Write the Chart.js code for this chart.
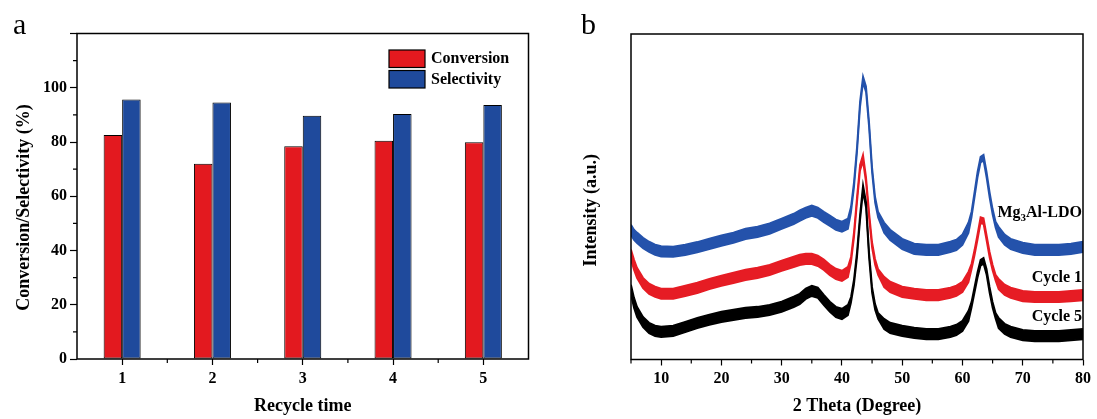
<!DOCTYPE html>
<html>
<head>
<meta charset="utf-8">
<script src="https://cdn.jsdelivr.net/npm/chart.js@4.4.1/dist/chart.umd.min.js"></script>
<style>
  html, body { margin: 0; padding: 0; background: #fff; }
  #wrap { position: relative; width: 1097px; height: 419px; overflow: hidden; font-family: "Liberation Serif", serif; }
  .panel { position: absolute; top: 0; height: 419px; }
  #boxA { left: 0; width: 548px; }
  #boxB { left: 548px; width: 549px; }
  .tag { position: absolute; top: 9px; font-size: 30px; line-height: 30px; color: #000; }
</style>
</head>
<body>
<div id="wrap">
  <div class="panel" id="boxA"><canvas id="chartA" width="548" height="419"></canvas></div>
  <div class="panel" id="boxB"><canvas id="chartB" width="549" height="419"></canvas></div>
  <div class="tag" style="left:13px;">a</div>
  <div class="tag" style="left:581px;">b</div>
</div>
<script>
// panel a: recycle test
const recycleTimes = ['1', '2', '3', '4', '5'];
const conversion = [82.6, 72.0, 78.4, 80.5, 79.9];
const selectivity = [95.7, 94.6, 89.7, 90.3, 93.6];
const yTicksA = [0, 20, 40, 60, 80, 100, 120];
const yMinorA = [10, 30, 50, 70, 90, 110];

// panel b: XRD patterns, top and bottom edge of each noisy trace
const xTicksB = [10, 20, 30, 40, 50, 60, 70, 80];
const xMinorB = [5, 15, 25, 35, 45, 55, 65, 75];
const theta = [5,5.5,6,7,8,9,10,12,14,16,18,20,22,24,26,28,30,32,33,34,35,36,37,38,39,40,41,41.5,42,42.5,43,43.5,44,44.5,45,45.5,46,47,48,50,52,54,56,58,59,60,61,61.5,62,62.5,63,63.5,64,64.5,65,65.5,66,67,68,70,72,74,76,78,80];
const ldoTop = [41.4,39.9,39.0,37.4,36.2,35.3,34.8,34.7,35.3,36.1,37.1,38.1,39.0,40.2,40.8,41.8,43.3,44.8,45.8,46.7,47.3,46.7,45.4,44.2,43.0,42.4,43.3,46.9,54.6,65.4,79.2,87.0,83.9,73.1,59.2,50.0,45.4,42.1,39.9,37.1,35.6,35.3,35.3,36.2,36.8,38.4,42.1,45.4,51.5,57.7,62.3,62.9,57.7,51.5,46.3,42.3,40.8,38.4,37.1,35.9,35.3,35.3,35.3,35.6,36.2];
const ldoBottom = [38.2,36.7,35.8,34.2,33.0,32.1,31.6,31.5,32.1,32.9,33.9,34.9,35.8,37.0,37.6,38.6,40.1,41.6,42.6,43.5,44.1,43.5,42.2,41.0,39.8,39.2,40.1,45.1,52.8,63.6,77.4,85.1,82.1,71.3,57.4,48.2,43.6,38.9,36.7,33.9,32.4,32.1,32.1,33.0,33.6,35.2,38.9,43.6,49.7,55.9,60.5,61.1,55.9,49.7,44.5,40.5,37.6,35.2,33.9,32.7,32.1,32.1,32.1,32.4,33.0];
const cycle1Top = [33.8,30.7,28.2,25.1,23.3,22.4,21.8,21.8,22.7,23.6,24.8,25.8,26.7,27.6,28.2,29.1,30.4,31.6,32.2,32.5,32.5,31.9,30.7,29.1,27.9,27.3,28.5,31.5,39.2,50.0,59.8,62.9,56.1,45.4,36.1,30.9,27.8,25.4,23.9,22.4,21.8,21.4,21.4,22.1,22.7,23.9,27.0,29.4,33.7,38.6,43.7,43.4,38.3,33.1,29.1,26.0,24.8,23.0,22.1,21.1,20.8,20.8,20.8,21.1,21.4];
const cycle1Bottom = [30.6,27.5,25.0,21.9,20.1,19.2,18.6,18.6,19.5,20.4,21.6,22.6,23.5,24.4,25.0,25.9,27.2,28.4,29.0,29.3,29.3,28.7,27.5,25.9,24.7,24.1,25.3,29.7,37.4,48.2,58.0,60.9,54.3,43.6,34.3,29.1,26.0,22.2,20.7,19.2,18.6,18.2,18.2,18.9,19.5,20.7,23.8,27.6,31.9,36.8,41.9,41.6,36.5,31.3,27.3,24.2,21.6,19.8,18.9,17.9,17.6,17.6,17.6,17.9,18.2];
const cycle5Top = [23.0,19.0,16.2,13.1,11.3,10.4,10.1,10.4,11.6,12.8,13.8,14.7,15.3,15.9,16.2,16.8,17.8,19.3,20.2,21.8,22.7,22.1,19.9,17.8,16.2,15.6,16.8,19.2,24.7,33.1,44.4,53.6,48.4,33.1,22.3,17.1,14.3,12.5,11.3,10.4,9.8,9.4,9.4,10.1,10.7,11.9,15.0,17.7,22.3,26.9,30.6,31.2,27.8,22.3,17.7,14.3,12.8,11.0,10.1,9.1,8.8,8.8,8.8,9.1,9.4];
const cycle5Bottom = [19.8,15.8,13.0,9.9,8.1,7.2,6.9,7.2,8.4,9.6,10.6,11.5,12.1,12.7,13.0,13.6,14.6,16.1,17.0,18.6,19.5,18.9,16.7,14.6,13.0,12.4,13.6,17.4,22.9,31.3,42.6,51.6,46.6,31.3,20.5,15.3,12.5,9.3,8.1,7.2,6.6,6.2,6.2,6.9,7.5,8.7,11.8,15.9,20.5,25.1,28.8,29.4,26.0,20.5,15.9,12.5,9.6,7.8,6.9,5.9,5.6,5.6,5.6,5.9,6.2];

const RED = '#e3191f';
const BLUE = '#1f4a9c';
const LINE_BLUE = '#2452ab';
const LINE_RED = '#e61c24';

Chart.defaults.font.family = '"Liberation Serif", "Times New Roman", serif';
Chart.defaults.color = '#000';

const bold16 = {size: 16, weight: 'bold'};
const bold18 = {size: 18, weight: 'bold'};

// box around the plot + short minor ticks
const frame = {
    id: 'frame',
    afterDraw(chart, args, opts) {
        const {ctx, chartArea: a} = chart;
        ctx.save();
        ctx.strokeStyle = '#000';
        ctx.lineWidth = 1.5;
        ctx.strokeRect(a.left, a.top, a.right - a.left, a.bottom - a.top);
        ctx.lineWidth = 1.2;
        ctx.beginPath();
        (opts.xMinor || []).forEach(v => {
            const x = chart.scales.x.getPixelForValue(v);
            ctx.moveTo(x, a.bottom);
            ctx.lineTo(x, a.bottom + 4);
        });
        (opts.yMinor || []).forEach(v => {
            const y = chart.scales.y.getPixelForValue(v);
            ctx.moveTo(a.left, y);
            ctx.lineTo(a.left - 4, y);
        });
        ctx.stroke();
        ctx.restore();
    }
};

// legend boxes in the upper right corner of panel a
const boxLegend = {
    id: 'boxLegend',
    afterDraw(chart) {
        const {ctx, chartArea: a} = chart;
        ctx.save();
        ctx.font = 'bold 16px "Liberation Serif"';
        ctx.textBaseline = 'middle';
        chart.data.datasets.forEach((ds, i) => {
            const x = a.right - 139.5;
            const y = a.top + 16.5 + i * 20.5;
            ctx.fillStyle = ds.backgroundColor;
            ctx.fillRect(x, y, 36, 17.5);
            ctx.strokeStyle = '#000';
            ctx.lineWidth = 1.2;
            ctx.strokeRect(x, y, 36, 17.5);
            ctx.fillStyle = '#000';
            ctx.fillText(ds.label, x + 42, y + 9);
        });
        ctx.restore();
    }
};

// curve names at the right end of panel b
const curveNames = {
    id: 'curveNames',
    afterDraw(chart) {
        const {ctx, chartArea: a} = chart;
        const yScale = chart.scales.y;
        const names = [
            {parts: [['Mg', 16, 0], ['3', 11, 5], ['Al-LDO', 16, 0]], at: 45.1},
            {parts: [['Cycle 1', 16, 0]], at: 25.1},
            {parts: [['Cycle 5', 16, 0]], at: 13.1},
        ];
        ctx.save();
        ctx.fillStyle = '#000';
        ctx.textBaseline = 'middle';
        names.forEach(n => {
            let w = 0;
            n.parts.forEach(p => {
                ctx.font = 'bold ' + p[1] + 'px "Liberation Serif"';
                w += ctx.measureText(p[0]).width;
            });
            let x = a.right - 1 - w;
            const y = yScale.getPixelForValue(n.at);
            n.parts.forEach(p => {
                ctx.font = 'bold ' + p[1] + 'px "Liberation Serif"';
                ctx.fillText(p[0], x, y + p[2]);
                x += ctx.measureText(p[0]).width;
            });
        });
        ctx.restore();
    }
};

// Bar chart
new Chart(document.getElementById('chartA'), {
    type: 'bar',
    data: {
        labels: recycleTimes,
        datasets: [
            {label: 'Conversion', data: conversion, backgroundColor: RED, borderColor: '#000', borderWidth: 1, borderSkipped: false},
            {label: 'Selectivity', data: selectivity, backgroundColor: BLUE, borderColor: '#000', borderWidth: 1, borderSkipped: false},
        ]
    },
    options: {
        responsive: false,
        animation: false,
        categoryPercentage: 0.41,
        barPercentage: 1.0,
        layout: {padding: {top: 33.5, right: 19.5, left: 0, bottom: 0}},
        plugins: {
            legend: {display: false},
            tooltip: {enabled: false},
            frame: {xMinor: [0.5, 1.5, 2.5, 3.5], yMinor: yMinorA},
        },
        scales: {
            x: {
                grid: {offset: false, drawOnChartArea: false, tickLength: 6, color: '#000', tickWidth: 1.2},
                border: {display: false},
                ticks: {font: bold16, padding: 4},
                title: {display: true, text: 'Recycle time', font: bold18, padding: {top: 0, bottom: 2}},
                afterFit: s => { s.height = 60; },
            },
            y: {
                min: 0,
                max: 120,
                afterBuildTicks: s => { s.ticks = yTicksA.map(v => ({value: v})); },
                grid: {drawOnChartArea: false, tickLength: 7, color: '#000', tickWidth: 1.2},
                border: {display: false},
                ticks: {font: bold16, padding: 3, callback: v => (v === 120 ? '' : v)},
                title: {display: true, text: 'Conversion/Selectivity (%)     ', font: bold18, padding: {top: 14, bottom: 0}},
                afterFit: s => { s.width = 77; },
            }
        }
    },
    plugins: [frame, boxLegend]
});

// XRD chart
function trace(values) {
    return theta.map((t, i) => ({x: t, y: values[i]}));
}

function band(top, bottom, color, order) {
    return [
        {data: trace(top), borderColor: color, backgroundColor: color, fill: '+1', order: order},
        {data: trace(bottom), borderColor: color, fill: false, order: order},
    ];
}

new Chart(document.getElementById('chartB'), {
    type: 'line',
    data: {
        datasets: [
            ...band(ldoTop, ldoBottom, LINE_BLUE, 3),
            ...band(cycle1Top, cycle1Bottom, LINE_RED, 2),
            ...band(cycle5Top, cycle5Bottom, '#000', 1),
        ]
    },
    options: {
        responsive: false,
        animation: false,
        elements: {
            point: {radius: 0},
            line: {borderWidth: 1.8, tension: 0},
        },
        layout: {padding: {top: 34, right: 14, left: 0, bottom: 0}},
        plugins: {
            legend: {display: false},
            tooltip: {enabled: false},
            frame: {xMinor: xMinorB},
        },
        scales: {
            x: {
                type: 'linear',
                min: 5,
                max: 80,
                afterBuildTicks: s => { s.ticks = xTicksB.map(v => ({value: v})); },
                grid: {drawOnChartArea: false, tickLength: 6, color: '#000', tickWidth: 1.2},
                border: {display: false},
                ticks: {font: bold16, padding: 4, maxRotation: 0, autoSkip: false},
                title: {display: true, text: '2 Theta (Degree)', font: bold18, padding: {top: 0, bottom: 2}},
                afterFit: s => { s.height = 59.5; },
            },
            y: {
                min: 0,
                max: 100,
                grid: {display: false},
                border: {display: false},
                ticks: {display: false},
                title: {display: true, text: 'Intensity (a.u.)      ', font: bold18, padding: {top: 33, bottom: 0}},
                afterFit: s => { s.width = 83; },
            }
        }
    },
    plugins: [frame, curveNames]
});
</script>
</body>
</html>
